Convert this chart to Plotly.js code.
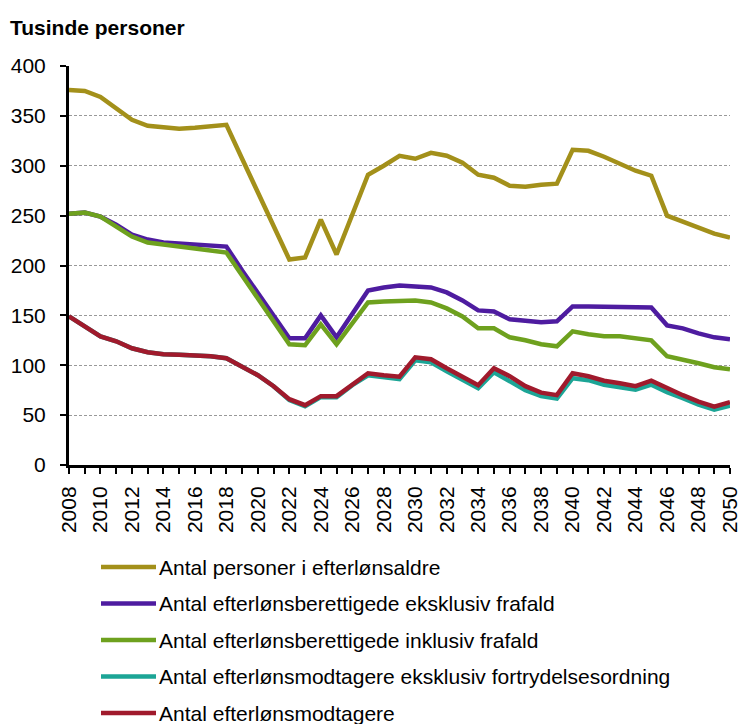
<!DOCTYPE html>
<html>
<head>
<meta charset="utf-8">
<script src="https://cdn.plot.ly/plotly-3.0.1.min.js"></script>
<style>html,body{margin:0;padding:0;background:#fff;}#chart{width:741px;height:724px;}</style>
</head>
<body>
<div id="chart"></div>
<script>
var years = [2008,2009,2010,2011,2012,2013,2014,2015,2016,2017,2018,2019,2020,2021,2022,2023,2024,2025,2026,2027,2028,2029,2030,2031,2032,2033,2034,2035,2036,2037,2038,2039,2040,2041,2042,2043,2044,2045,2046,2047,2048,2049,2050];

var personerIAlder = [376,375,369,358,346,340,338,337,338,340,341,307,274,240,206,208,246,211,252,291,300,310,307,313,310,303,291,288,280,279,281,282,316,315,309,302,295,290,250,244,238,232,228];
var berettigedeEksFrafald = [252,253,249,241,231,226,223,222,221,220,219,195,172,150,127,127,150,128,152,175,178,180,179,178,173,165,155,154,146,145,143,144,159,159,159,159,159,158,140,137,132,128,126];
var berettigedeInklFrafald = [252,253,249,239,229,223,220.5,219,217,215.5,213,190,167,144,121,120,141,121,142,163,164,165,165,163,157,149,137,137,128,125,121,119,134,131,129,129,127,125,109,106,102,98,96];
var modtagereEksFortryd = [149,139,129,124,117,113,111,110.5,110,109,107,99,90,79,65,59,68,68,80,90,88,86,105,103,94,85,77,93,84,75,69,66.5,87,85,80.5,78,75.5,80.5,73,67,60.5,55.5,59.5];
var modtagere = [149,139,129,124,117,113,111,110.5,110,109,107,99,90,79,66,60,69,69,81,92,90,88.5,108,106,97,88.5,80,97,89,79,72.5,70,92,89,84.5,82,79,84.5,77,70,63.5,58.5,63];

var seriesNames = [
  "Antal personer i efterlønsaldre",
  "Antal efterlønsberettigede eksklusiv frafald",
  "Antal efterlønsberettigede inklusiv frafald",
  "Antal efterlønsmodtagere eksklusiv fortrydelsesordning",
  "Antal efterlønsmodtagere"
];
var seriesValues = [personerIAlder, berettigedeEksFrafald, berettigedeInklFrafald, modtagereEksFortryd, modtagere];
var seriesColors = ["#A3901A", "#4E1CA0", "#6EA11E", "#1CA596", "#A01A2C"];

var yTickVals = [0,50,100,150,200,250,300,350,400];
var xTickVals = [2008,2010,2012,2014,2016,2018,2020,2022,2024,2026,2028,2030,2032,2034,2036,2038,2040,2042,2044,2046,2048,2050];

var W = 741, H = 724;
var M = {l: 69, r: 11, t: 66, b: 259};
var plotW = W - M.l - M.r, plotH = H - M.t - M.b;
function px2x(px) { return (px - M.l) / plotW; }
function px2y(py) { return (H - M.b - py) / plotH; }
var FONT = 'Liberation Sans, Arial, sans-serif';

var traces = seriesNames.map(function(name, i) {
  return {
    x: years, y: seriesValues[i], name: name, type: 'scatter', mode: 'lines',
    line: {color: seriesColors[i], width: 4.5},
    showlegend: false, hoverinfo: 'x+y'
  };
});

var shapes = [], annotations = [];
seriesNames.forEach(function(name, i) {
  var cy = 567 + i * 36.5;
  shapes.push({type: 'line', xref: 'paper', yref: 'paper',
    x0: px2x(101), x1: px2x(156), y0: px2y(cy), y1: px2y(cy),
    line: {color: seriesColors[i], width: 4.5}});
  annotations.push({xref: 'paper', yref: 'paper', x: px2x(157), y: px2y(cy),
    xanchor: 'left', yanchor: 'middle', showarrow: false, text: name,
    font: {family: FONT, size: 21, color: '#000'}});
});

var layout = {
  width: W, height: H,
  margin: M,
  paper_bgcolor: '#fff', plot_bgcolor: '#fff',
  font: {family: FONT, size: 21, color: '#000'},
  title: {text: 'Tusinde personer', xref: 'container', yref: 'container',
    x: 10 / W, xanchor: 'left', y: 1 - 28 / H, yanchor: 'middle',
    font: {family: FONT, size: 21, weight: 'bold', color: '#000'}},
  xaxis: {
    range: [2008, 2050], tickvals: xTickVals, ticktext: xTickVals.map(String),
    tickangle: -90, ticks: 'outside', ticklen: 6, tickwidth: 2, tickcolor: '#000',
    minor: {tickvals: years, ticks: 'outside', ticklen: 6, tickwidth: 2, tickcolor: '#000', showgrid: false},
    showline: true, linecolor: '#000', linewidth: 3, showgrid: false, zeroline: false,
    ticklabelstandoff: 4, fixedrange: true
  },
  yaxis: {
    range: [0, 400], tickvals: yTickVals, ticks: 'outside', ticklen: 6, tickwidth: 2, tickcolor: '#000',
    showline: true, linecolor: '#000', linewidth: 3, showgrid: true,
    gridcolor: '#999', griddash: '3px,2px', gridwidth: 1, zeroline: false,
    ticklabelstandoff: 10, fixedrange: true
  },
  shapes: shapes,
  annotations: annotations
};

Plotly.newPlot('chart', traces, layout, {displayModeBar: false, staticPlot: true});
</script>
</body>
</html>
